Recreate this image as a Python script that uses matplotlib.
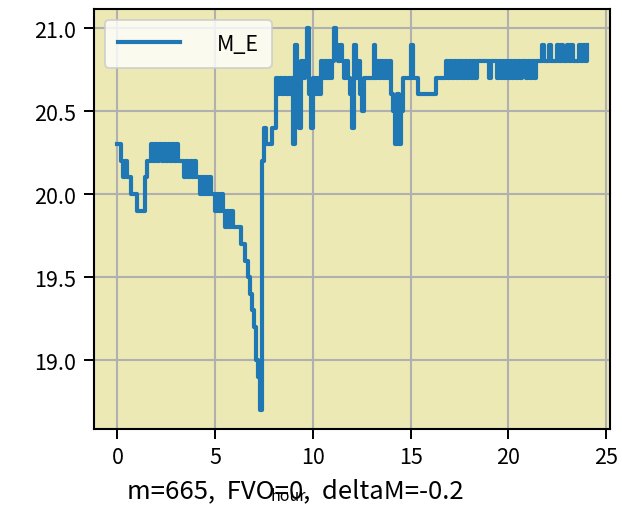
import numpy as np
import matplotlib
matplotlib.use("Agg")
import matplotlib.pyplot as plt

plt.rcParams['font.family'] = ['Noto Sans CJK SC', 'DejaVu Sans']

# M_E sampled every 0.1 hour, rows are hours 0..23, last value is hour 24.0
me_values = [
    20.3, 20.3, 20.2, 20.1, 20.2, 20.1, 20.1, 20.0, 20.0, 20.0,
    19.9, 19.9, 19.9, 19.9, 20.1, 20.2, 20.2, 20.3, 20.2, 20.3,
    20.2, 20.3, 20.3, 20.2, 20.3, 20.2, 20.3, 20.2, 20.3, 20.2,
    20.3, 20.2, 20.2, 20.2, 20.1, 20.2, 20.1, 20.2, 20.1, 20.2,
    20.1, 20.1, 20.0, 20.1, 20.0, 20.1, 20.0, 20.1, 20.0, 20.0,
    19.9, 20.0, 19.9, 20.0, 19.9, 19.8, 19.9, 19.8, 19.9, 19.8,
    19.8, 19.8, 19.8, 19.7, 19.7, 19.6, 19.6, 19.5, 19.4, 19.3,
    19.2, 19.0, 18.9, 18.7, 20.2, 20.4, 20.3, 20.3, 20.3, 20.4,
    20.4, 20.7, 20.6, 20.7, 20.6, 20.7, 20.6, 20.7, 20.6, 20.7,
    20.3, 20.9, 20.7, 20.4, 20.8, 20.7, 20.8, 21.0, 20.6, 20.4,
    20.7, 20.6, 20.7, 20.6, 20.8, 20.7, 20.8, 20.7, 20.8, 20.7,
    20.8, 21.0, 20.9, 20.8, 20.9, 20.8, 20.7, 20.8, 20.7, 20.6,
    20.4, 20.9, 20.7, 20.8, 20.6, 20.5, 20.7, 20.7, 20.7, 20.7,
    20.7, 20.9, 20.7, 20.8, 20.7, 20.8, 20.7, 20.8, 20.7, 20.8,
    20.6, 20.5, 20.3, 20.6, 20.3, 20.5, 20.7, 20.7, 20.7, 20.7,
    20.9, 20.7, 20.7, 20.7, 20.6, 20.6, 20.6, 20.6, 20.6, 20.6,
    20.6, 20.6, 20.6, 20.7, 20.7, 20.7, 20.7, 20.7, 20.8, 20.7,
    20.8, 20.7, 20.8, 20.7, 20.8, 20.7, 20.8, 20.7, 20.8, 20.7,
    20.8, 20.7, 20.8, 20.7, 20.8, 20.8, 20.8, 20.8, 20.8, 20.8,
    20.7, 20.8, 20.8, 20.8, 20.7, 20.8, 20.7, 20.8, 20.7, 20.8,
    20.7, 20.8, 20.7, 20.8, 20.7, 20.8, 20.7, 20.8, 20.8, 20.7,
    20.8, 20.7, 20.8, 20.7, 20.8, 20.8, 20.8, 20.9, 20.8, 20.8,
    20.8, 20.9, 20.8, 20.8, 20.8, 20.9, 20.8, 20.9, 20.8, 20.8,
    20.9, 20.8, 20.9, 20.8, 20.8, 20.8, 20.9, 20.8, 20.9, 20.8,
    20.9,
]
hours = np.round(np.arange(len(me_values)) * 0.1, 1)

x_ticks = [0, 5, 10, 15, 20, 25]
y_ticks = [19.0, 19.5, 20.0, 20.5, 21.0]
series_label = "M_E"
x_label = "hour"
caption = "m=665,  FVO=0,  deltaM=-0.2"

fig = plt.figure(figsize=(6.22, 5.10), dpi=100)
ax = fig.add_axes([94 / 622, 1 - 430 / 510, (610 - 94) / 622, (430 - 10) / 510])
ax.set_facecolor('#ECE9B4')
ax.plot(hours, me_values, color='#1f77b4', linewidth=3.0, label=series_label,
        drawstyle='steps-post', solid_joinstyle='round')
ax.grid(True, color='#b0b0b0', linewidth=1.5)
ax.set_axisbelow(True)
ax.set_xticks(x_ticks)
ax.set_yticks(y_ticks)
ax.set_yticklabels([f"{v:.1f}" for v in y_ticks])
ax.margins(x=0.05, y=0.05)
for s in ax.spines.values():
    s.set_linewidth(1.5)
ax.tick_params(axis='both', labelsize=15.5, length=7, width=1.4)
ax.tick_params(axis='x', pad=5)
ax.tick_params(axis='y', pad=6)

leg = ax.legend(loc='upper left', fontsize=15.5, handlelength=2.9, handletextpad=1.7,
                borderpad=0.6, fancybox=True, framealpha=0.8)
leg.get_frame().set_linewidth(1.4)

fig.text(295 / 622, 1 - 498 / 510, caption, ha='center', va='baseline', fontsize=18.5)
fig.text(288 / 622, 1 - 501 / 510, x_label, ha='center', va='baseline', fontsize=11.5)

fig.savefig("out.png", dpi=100)
